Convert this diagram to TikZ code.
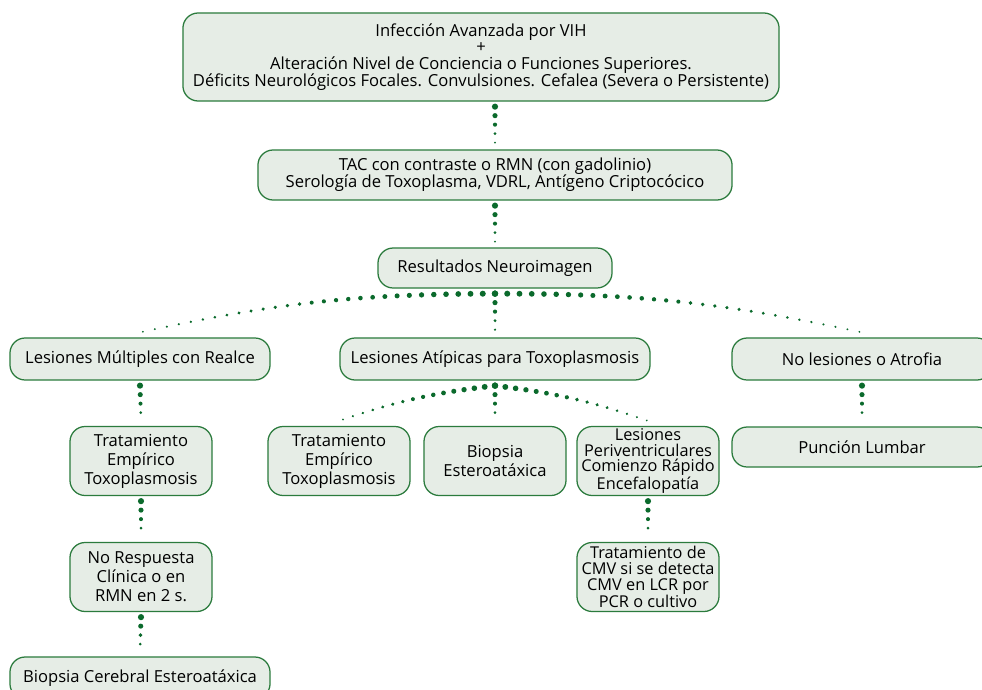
\documentclass[tikz,border=0pt]{standalone}
\usepackage{fontspec}
\setmainfont{Open Sans}
\usetikzlibrary{decorations.markings}

\definecolor{boxfill}{HTML}{E6EDE6}
\definecolor{boxline}{HTML}{2B7B3D}
\definecolor{dotgreen}{HTML}{0B6A2C}

\begin{document}
\begin{tikzpicture}[x=0.025cm, y=-0.025cm,
  stepbox/.style={draw=boxline, line width=0.9pt, fill=boxfill,
    rounded corners=0.38cm, align=center, inner sep=1pt, outer sep=4pt,
    font=\fontsize{11.8}{13.5}\selectfont},
  taper/.style={decoration={markings,
    mark=between positions 0 and 1 step #1 with {
      \pgfmathsetmacro\dotr{2.2-1.5*\pgfkeysvalueof{/pgf/decoration/mark info/distance from start}/\pgfdecoratedpathlength}
      \fill[dotgreen] (0,0) circle (\dotr pt);}}, decorate},
  taper/.default=6.4pt]

  \useasboundingbox (0,0) rectangle (982,690);

  % cabecera
  \node[stepbox, minimum width=14.9cm, minimum height=2.2cm,
    font=\fontsize{11.8}{11.9}\selectfont] (vih) at (481,57)
    {Infección Avanzada por VIH\\+\\Alteración Nivel de Conciencia o Funciones Superiores.\\
     Déficits Neurológicos Focales. Convulsiones. Cefalea (Severa o Persistente)};
  \node[stepbox, minimum width=11.85cm, minimum height=1.25cm,
    font=\fontsize{11.8}{12.2}\selectfont] (tac) at (495,175)
    {TAC con contraste o RMN (con gadolinio)\\Serología de Toxoplasma, VDRL, Antígeno Criptocócico};
  \node[stepbox, minimum width=5.85cm, minimum height=1cm] (res) at (495,268)
    {Resultados Neuroimagen};

  % tres ramas
  \node[stepbox, minimum width=6.5cm, minimum height=1.05cm] (lm) at (140,359)
    {Lesiones Múltiples con Realce};
  \node[stepbox, minimum width=7.75cm, minimum height=1.05cm] (la) at (495,359)
    {Lesiones Atípicas para Toxoplasmosis};
  \node[stepbox, minimum width=6.5cm, minimum height=1.05cm] (nl) at (862,359)
    {No lesiones o Atrofia};

  % rama izquierda
  \node[stepbox, minimum width=3.55cm, minimum height=1.725cm] (tel) at (141,461)
    {Tratamiento\\Empírico\\Toxoplasmosis};
  \node[stepbox, minimum width=3.55cm, minimum height=1.725cm] (nrc) at (141,577)
    {No Respuesta\\Clínica o en\\RMN en 2 s.};
  \node[stepbox, minimum width=6.5cm, minimum height=1.05cm] (bce) at (140,678)
    {Biopsia Cerebral Esteroatáxica};

  % rama central
  \node[stepbox, minimum width=3.55cm, minimum height=1.725cm] (tea) at (339,461)
    {Tratamiento\\Empírico\\Toxoplasmosis};
  \node[stepbox, minimum width=3.55cm, minimum height=1.725cm] (bes) at (495,461)
    {Biopsia\\Esteroatáxica};
  \node[stepbox, minimum width=3.55cm, minimum height=1.725cm,
    font=\fontsize{11.6}{11.2}\selectfont] (lpv) at (648,461)
    {Lesiones\\Periventriculares\\Comienzo Rápido\\Encefalopatía};
  \node[stepbox, minimum width=3.55cm, minimum height=1.725cm,
    font=\fontsize{11.6}{11.2}\selectfont] (cmv) at (648,577)
    {Tratamiento de\\CMV si se detecta\\CMV en LCR por\\PCR o cultivo};

  % rama derecha
  \node[stepbox, minimum width=6.5cm, minimum height=1cm] (pl) at (862,447)
    {Punción Lumbar};

  % conectores punteados
  \path[taper] (vih.south -| res) -- (tac.north);
  \path[taper] (tac.south) -- (res.north);
  \path[taper=8.7pt] (res.south) to[bend right=6] (lm.north);
  \path[taper] (res.south) -- (la.north);
  \path[taper=8.7pt] (res.south) to[bend left=6] (nl.north);
  \path[taper] (lm.south) -- (tel.north);
  \path[taper] (tel.south) -- (nrc.north);
  \path[taper] (nrc.south) -- (bce.north);
  \path[taper=7.4pt] (la.south) to[bend right=6] (tea.north);
  \path[taper] (la.south) -- (bes.north);
  \path[taper=7.4pt] (la.south) to[bend left=6] (lpv.north);
  \path[taper] (lpv.south) -- (cmv.north);
  \path[taper] (nl.south) -- (pl.north);
\end{tikzpicture}
\end{document}
